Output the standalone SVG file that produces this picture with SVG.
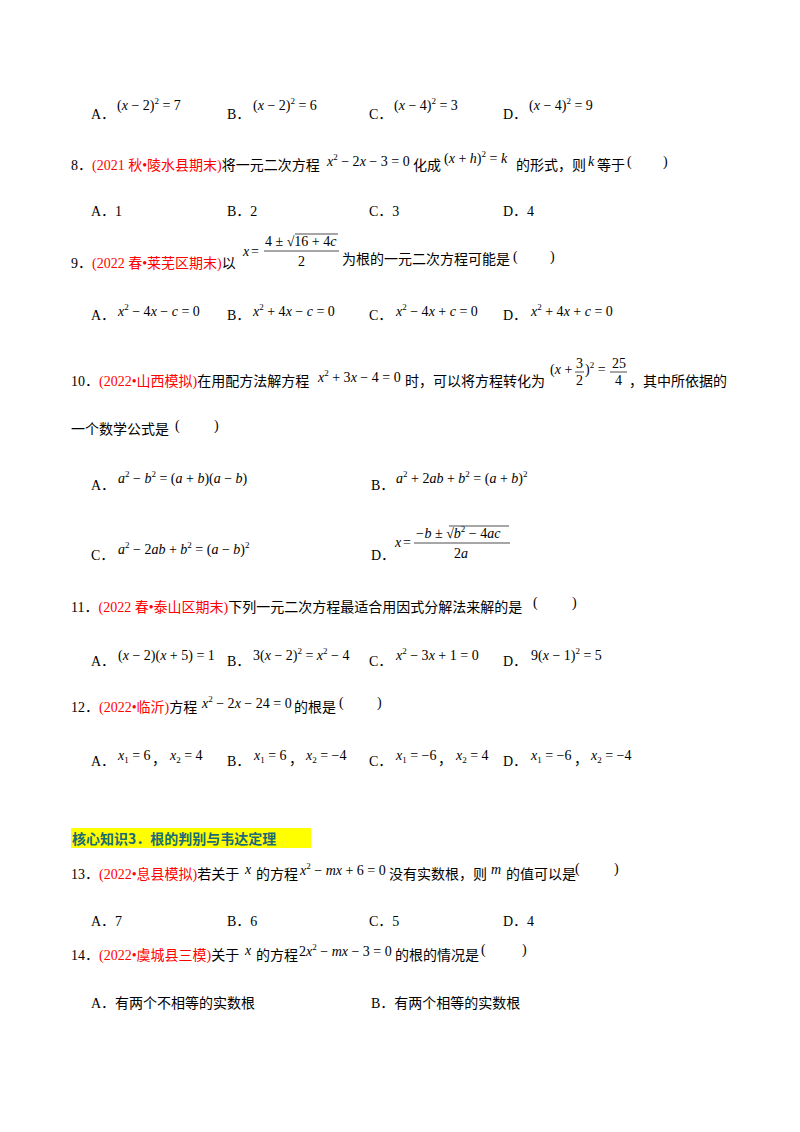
<svg xmlns="http://www.w3.org/2000/svg" width="800" height="1132" viewBox="0 0 800 1132">
<style>
text{font-family:"Liberation Serif","Noto Sans CJK SC",serif;font-size:14px;fill:#000}
.r{fill:#ff0000}
.m{font-size:14px}
.i{font-style:italic}
.s{font-size:9px}
.h{font-family:"Noto Sans CJK SC",sans-serif;font-weight:bold;fill:#1a6a78;font-size:14px}
line{stroke:#000;stroke-width:0.7}
</style>
<rect width="800" height="1132" fill="#fff"/>
<g id="q7opts">
<text x="91" y="119">A．</text><text class="m" x="117" y="110">(<tspan class="i">x</tspan> − 2)<tspan class="s" dy="-6">2</tspan><tspan dy="6"> = 7</tspan></text>
<text x="227" y="119">B．</text><text class="m" x="253" y="110">(<tspan class="i">x</tspan> − 2)<tspan class="s" dy="-6">2</tspan><tspan dy="6"> = 6</tspan></text>
<text x="369" y="119">C．</text><text class="m" x="394" y="110">(<tspan class="i">x</tspan> − 4)<tspan class="s" dy="-6">2</tspan><tspan dy="6"> = 3</tspan></text>
<text x="503" y="119">D．</text><text class="m" x="529" y="110">(<tspan class="i">x</tspan> − 4)<tspan class="s" dy="-6">2</tspan><tspan dy="6"> = 9</tspan></text>
</g>
<g id="q8">
<text x="71" y="170">8．<tspan class="r">(2021 秋•陵水县期末)</tspan>将一元二次方程</text>
<text class="m" x="327" y="166"><tspan class="i">x</tspan><tspan class="s" dy="-6">2</tspan><tspan dy="6"> − 2</tspan><tspan class="i">x</tspan> − 3 = 0</text>
<text x="413" y="170">化成</text>
<text class="m" x="444" y="163">(<tspan class="i">x</tspan> + <tspan class="i">h</tspan>)<tspan class="s" dy="-6">2</tspan><tspan dy="6"> = </tspan><tspan class="i">k</tspan></text>
<text x="516" y="170">的形式，则</text><text class="m i" x="588" y="166">k</text><text x="597" y="170">等于</text>
<text class="m" x="627" y="166">(</text><text class="m" x="663" y="166">)</text>
<text x="91" y="216">A．1</text><text x="227" y="216">B．2</text><text x="369" y="216">C．3</text><text x="503" y="216">D．4</text>
</g>
<g id="q9">
<text x="71" y="268">9．<tspan class="r">(2022 春•莱芜区期末)</tspan>以</text>
<text class="m i" x="243" y="256">x</text><text class="m" x="251" y="256">=</text>
<text class="m" x="265" y="246">4 ± √16 + 4<tspan class="i">c</tspan></text>
<line x1="295" y1="234" x2="338" y2="234"/>
<line x1="264" y1="251" x2="339" y2="251"/>
<text class="m" x="298" y="266">2</text>
<text x="342" y="264">为根的一元二次方程可能是</text><text class="m" x="513" y="261">(</text><text class="m" x="550" y="261">)</text>
<text x="91" y="320">A．</text><text class="m" x="118" y="316"><tspan class="i">x</tspan><tspan class="s" dy="-6">2</tspan><tspan dy="6"> − 4</tspan><tspan class="i">x</tspan> − <tspan class="i">c</tspan> = 0</text>
<text x="227" y="320">B．</text><text class="m" x="253" y="316"><tspan class="i">x</tspan><tspan class="s" dy="-6">2</tspan><tspan dy="6"> + 4</tspan><tspan class="i">x</tspan> − <tspan class="i">c</tspan> = 0</text>
<text x="369" y="320">C．</text><text class="m" x="396" y="316"><tspan class="i">x</tspan><tspan class="s" dy="-6">2</tspan><tspan dy="6"> − 4</tspan><tspan class="i">x</tspan> + <tspan class="i">c</tspan> = 0</text>
<text x="503" y="320">D．</text><text class="m" x="531" y="316"><tspan class="i">x</tspan><tspan class="s" dy="-6">2</tspan><tspan dy="6"> + 4</tspan><tspan class="i">x</tspan> + <tspan class="i">c</tspan> = 0</text>
</g>
<g id="q10">
<text x="71" y="386">10．<tspan class="r">(2022•山西模拟)</tspan>在用配方法解方程</text>
<text class="m" x="318" y="382"><tspan class="i">x</tspan><tspan class="s" dy="-6">2</tspan><tspan dy="6"> + 3</tspan><tspan class="i">x</tspan> − 4 = 0</text>
<text x="405" y="386">时，可以将方程转化为</text>
<text class="m" x="550" y="374">(<tspan class="i">x</tspan> +</text><text class="m" x="576" y="368">3</text><line x1="575" y1="372" x2="584" y2="372"/><text class="m" x="576" y="385">2</text>
<text class="m" x="585" y="374">)<tspan class="s" dy="-6">2</tspan><tspan dy="6"> =</tspan></text>
<text class="m" x="612" y="368">25</text><line x1="610" y1="372" x2="627" y2="372"/><text class="m" x="615" y="385">4</text>
<text x="629" y="386">，其中所依据的</text>
<text x="71" y="434">一个数学公式是</text><text class="m" x="175" y="430">(</text><text class="m" x="214" y="430">)</text>
<text x="91" y="490">A．</text><text class="m" x="118" y="483"><tspan class="i">a</tspan><tspan class="s" dy="-6">2</tspan><tspan dy="6"> − </tspan><tspan class="i">b</tspan><tspan class="s" dy="-6">2</tspan><tspan dy="6"> = (</tspan><tspan class="i">a</tspan> + <tspan class="i">b</tspan>)(<tspan class="i">a</tspan> − <tspan class="i">b</tspan>)</text>
<text x="371" y="490">B．</text><text class="m" x="396" y="483"><tspan class="i">a</tspan><tspan class="s" dy="-6">2</tspan><tspan dy="6"> + 2</tspan><tspan class="i">ab</tspan> + <tspan class="i">b</tspan><tspan class="s" dy="-6">2</tspan><tspan dy="6"> = (</tspan><tspan class="i">a</tspan> + <tspan class="i">b</tspan>)<tspan class="s" dy="-6">2</tspan></text>
<text x="91" y="560">C．</text><text class="m" x="118" y="554"><tspan class="i">a</tspan><tspan class="s" dy="-6">2</tspan><tspan dy="6"> − 2</tspan><tspan class="i">ab</tspan> + <tspan class="i">b</tspan><tspan class="s" dy="-6">2</tspan><tspan dy="6"> = (</tspan><tspan class="i">a</tspan> − <tspan class="i">b</tspan>)<tspan class="s" dy="-6">2</tspan></text>
<text x="371" y="560">D．</text>
<text class="m i" x="395" y="547">x</text><text class="m" x="403" y="547">=</text>
<text class="m" x="415" y="538"><tspan class="i">−b</tspan> ± √<tspan class="i">b</tspan><tspan class="s" dy="-6">2</tspan><tspan dy="6"> − 4</tspan><tspan class="i">ac</tspan></text>
<line x1="449" y1="526" x2="509" y2="526"/>
<line x1="414" y1="543" x2="510" y2="543"/>
<text class="m" x="454" y="558">2<tspan class="i">a</tspan></text>
</g>
<g id="q11">
<text x="71" y="612">11．<tspan class="r">(2022 春•泰山区期末)</tspan>下列一元二次方程最适合用因式分解法来解的是</text><text class="m" x="533" y="607">(</text><text class="m" x="572" y="607">)</text>
<text x="91" y="666">A．</text><text class="m" x="118" y="660">(<tspan class="i">x</tspan> − 2)(<tspan class="i">x</tspan> + 5) = 1</text>
<text x="227" y="666">B．</text><text class="m" x="253" y="660">3(<tspan class="i">x</tspan> − 2)<tspan class="s" dy="-6">2</tspan><tspan dy="6"> = </tspan><tspan class="i">x</tspan><tspan class="s" dy="-6">2</tspan><tspan dy="6"> − 4</tspan></text>
<text x="369" y="666">C．</text><text class="m" x="396" y="660"><tspan class="i">x</tspan><tspan class="s" dy="-6">2</tspan><tspan dy="6"> − 3</tspan><tspan class="i">x</tspan> + 1 = 0</text>
<text x="503" y="666">D．</text><text class="m" x="531" y="660">9(<tspan class="i">x</tspan> − 1)<tspan class="s" dy="-6">2</tspan><tspan dy="6"> = 5</tspan></text>
</g>
<g id="q12">
<text x="71" y="712">12．<tspan class="r">(2022•临沂)</tspan>方程</text><text class="m" x="202" y="708"><tspan class="i">x</tspan><tspan class="s" dy="-6">2</tspan><tspan dy="6"> − 2</tspan><tspan class="i">x</tspan> − 24 = 0</text><text x="294" y="712">的根是</text><text class="m" x="339" y="707">(</text><text class="m" x="377" y="707">)</text>
<text x="91" y="766">A．</text><text class="m" x="118" y="760"><tspan class="i">x</tspan><tspan class="s" dy="3">1</tspan><tspan dy="-3"> = 6</tspan></text><text x="152" y="764">，</text><text class="m" x="170" y="760"><tspan class="i">x</tspan><tspan class="s" dy="3">2</tspan><tspan dy="-3"> = 4</tspan></text>
<text x="227" y="766">B．</text><text class="m" x="254" y="760"><tspan class="i">x</tspan><tspan class="s" dy="3">1</tspan><tspan dy="-3"> = 6</tspan></text><text x="289" y="764">，</text><text class="m" x="306" y="760"><tspan class="i">x</tspan><tspan class="s" dy="3">2</tspan><tspan dy="-3"> = −4</tspan></text>
<text x="369" y="766">C．</text><text class="m" x="396" y="760"><tspan class="i">x</tspan><tspan class="s" dy="3">1</tspan><tspan dy="-3"> = −6</tspan></text><text x="438" y="764">，</text><text class="m" x="456" y="760"><tspan class="i">x</tspan><tspan class="s" dy="3">2</tspan><tspan dy="-3"> = 4</tspan></text>
<text x="503" y="766">D．</text><text class="m" x="531" y="760"><tspan class="i">x</tspan><tspan class="s" dy="3">1</tspan><tspan dy="-3"> = −6</tspan></text><text x="574" y="764">，</text><text class="m" x="591" y="760"><tspan class="i">x</tspan><tspan class="s" dy="3">2</tspan><tspan dy="-3"> = −4</tspan></text>
</g>
<g id="heading">
<rect x="71" y="828" width="240" height="20" fill="#ffff00"/>
<text class="h" x="72" y="844">核心知识3．根的判别与韦达定理</text>
</g>
<g id="q13">
<text x="71" y="879">13．<tspan class="r">(2022•息县模拟)</tspan>若关于</text><text class="m i" x="245" y="874">x</text><text x="256" y="879">的方程</text>
<text class="m" x="300" y="875"><tspan class="i">x</tspan><tspan class="s" dy="-6">2</tspan><tspan dy="6"> − </tspan><tspan class="i">mx</tspan> + 6 = 0</text>
<text x="389" y="879">没有实数根，则</text><text class="m i" x="491" y="874">m</text><text x="506" y="879">的值可以是</text><text class="m" x="575" y="873">(</text><text class="m" x="614" y="873">)</text>
<text x="91" y="926">A．7</text><text x="227" y="926">B．6</text><text x="369" y="926">C．5</text><text x="503" y="926">D．4</text>
</g>
<g id="q14">
<text x="71" y="960">14．<tspan class="r">(2022•虞城县三模)</tspan>关于</text><text class="m i" x="245" y="955">x</text><text x="256" y="960">的方程</text>
<text class="m" x="299" y="956">2<tspan class="i">x</tspan><tspan class="s" dy="-6">2</tspan><tspan dy="6"> − </tspan><tspan class="i">mx</tspan> − 3 = 0</text>
<text x="395" y="960">的根的情况是</text><text class="m" x="481" y="954">(</text><text class="m" x="522" y="954">)</text>
<text x="91" y="1008">A．有两个不相等的实数根</text><text x="371" y="1008">B．有两个相等的实数根</text>
</g>
</svg>
